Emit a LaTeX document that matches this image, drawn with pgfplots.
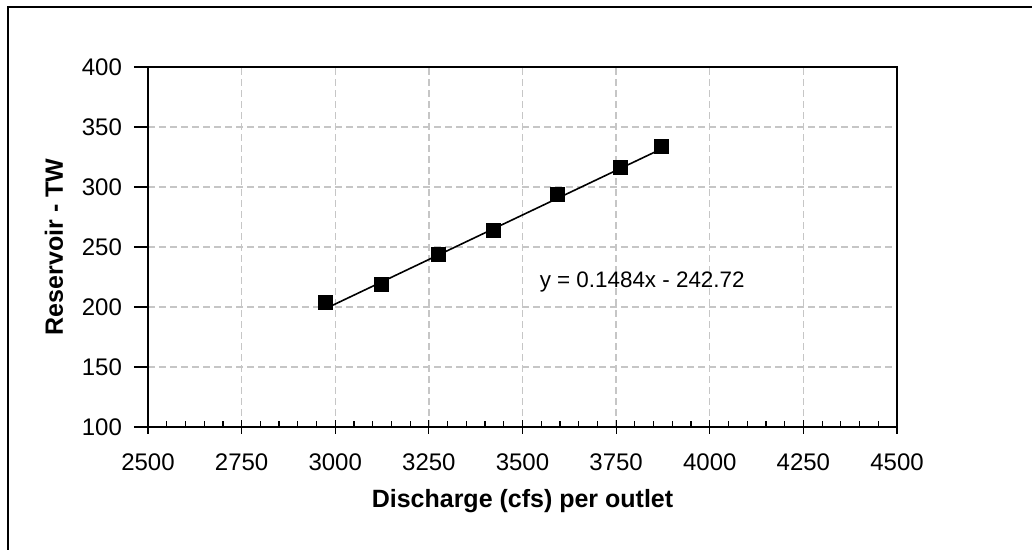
\documentclass[border=0pt]{standalone}
\usepackage{fontspec}
\setmainfont{Liberation Sans}
\usepackage{pgfplots}
\pgfplotsset{compat=1.18}
\begin{document}
\begin{tikzpicture}
\path[use as bounding box] (-74pt,-61.5pt) rectangle (442pt,213.5pt);
\draw[line width=0.9pt,black] (-70pt,-62pt) -- (-70pt,210pt) -- (443pt,210pt);
\begin{axis}[
  scale only axis,
  width=374.5pt, height=180pt,
  xmin=2500, xmax=4500, ymin=100, ymax=400,
  xtick={2500,2750,...,4500},
  ytick={100,150,...,400},
  minor x tick num=4,
  xtick pos=bottom, ytick pos=left,
  tick align=center,
  major tick length=7pt, minor tick length=3pt,
  tick style={black, line width=0.6pt},
  minor x tick style={yshift=1.5pt},
  ytick style={xshift=-3.5pt},
  axis line style={black, line width=0.8pt},
  grid=major,
  major grid style={gray!45, line width=0.7pt, dash pattern=on 3.5pt off 2pt},
  /pgf/number format/assume math mode=true,
  /pgf/number format/1000 sep={},
  tick label style={font=\fontsize{12}{14}\selectfont},
  xticklabel style={yshift=-6.5pt},
  yticklabel style={xshift=-6pt},
  xlabel={Discharge (cfs) per outlet},
  ylabel={Reservoir - TW},
  every axis x label/.style={at={(axis description cs:0.5,0)}, yshift=-37pt, anchor=center, font=\fontsize{12.5}{14}\selectfont\bfseries},
  every axis y label/.style={at={(axis description cs:0,0.5)}, xshift=-47pt, rotate=90, anchor=center, font=\fontsize{12.5}{14}\selectfont\bfseries},
]
\addplot[black, line width=0.8pt, mark=none] coordinates {(2975,198.77) (3870,331.59)};
\addplot[only marks, mark=square*, mark size=3.5pt, black] coordinates {
 (2975,203.5) (3124,218.5) (3275,244) (3422,263.5) (3594,293.5) (3762,316.5) (3870,333.5)};
\node[anchor=west, inner sep=0pt, font=\fontsize{11.2}{13}\selectfont] at (axis cs:3545,221) {y = 0.1484x - 242.72};
\end{axis}
\end{tikzpicture}
\end{document}
